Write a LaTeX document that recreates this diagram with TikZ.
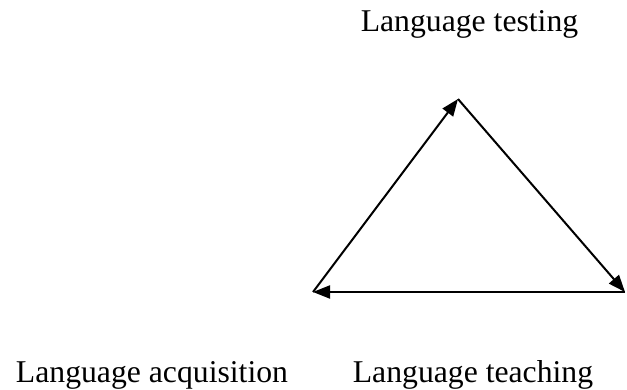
\documentclass[tikz,border=0pt]{standalone}
\usepackage{fontspec}
\setmainfont{Liberation Serif}
\usetikzlibrary{arrows.meta}
\begin{document}
\begin{tikzpicture}[x=1pt,y=1pt,
  lbl/.style={font=\fontsize{31.7}{34}\selectfont, inner sep=0pt},
  edge/.style={line width=2pt, -{Triangle[length=17pt,width=13pt]}}]
\useasboundingbox (0,0) rectangle (627,389);
\coordinate (T) at (458,290);
\coordinate (L) at (313,97);
\coordinate (R) at (625,97);
\node[lbl, anchor=base] (tt) at (469.5,357) {Language testing};
\node[lbl, anchor=base] (ta) at (152,7) {Language acquisition};
\node[lbl, anchor=base] (tg) at (473,7) {Language teaching};
\draw[edge] (L) -- (T);
\draw[edge] (T) -- (R);
\draw[edge] (R) -- (L);
\end{tikzpicture}
\end{document}
